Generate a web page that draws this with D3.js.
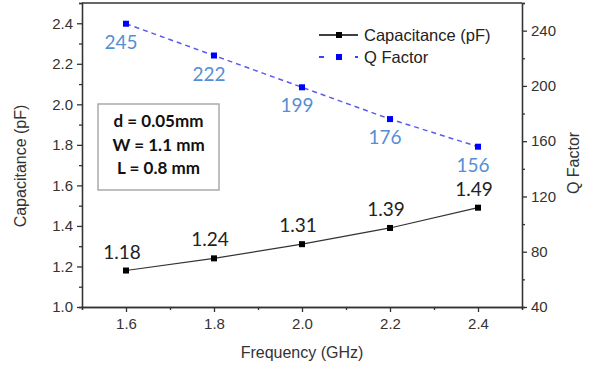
<!DOCTYPE html>
<html>
<head>
<meta charset="utf-8">
<script src="https://cdn.jsdelivr.net/npm/d3@7"></script>
<style>
  body { margin: 0; background: #fff; }
  svg { display: block; }
  .axis text { font-family: "Liberation Sans", Arial, sans-serif; font-size: 15px; fill: #333; }
  .axis path, .axis line { stroke: #333; stroke-width: 1.3; }
</style>
</head>
<body>
<svg id="chart" width="599" height="369"></svg>
<script>
// data
var freq = [1.6, 1.8, 2.0, 2.2, 2.4];
var capacitance = [1.18, 1.24, 1.31, 1.39, 1.49];
var qFactor = [245, 222, 199, 176, 156];

var xTicks = [1.6, 1.8, 2.0, 2.2, 2.4];
var xMinor = [1.5, 1.7, 1.9, 2.1, 2.3, 2.5];
var capTicks = [1.0, 1.2, 1.4, 1.6, 1.8, 2.0, 2.2, 2.4];
var capMinor = [1.1, 1.3, 1.5, 1.7, 1.9, 2.1, 2.3, 2.5];
var qTicks = [40, 80, 120, 160, 200, 240];
var qMinor = [60, 100, 140, 180, 220, 260];
var infoLines = ["d = 0.05mm", "W = 1.1 mm", "L = 0.8 mm"];

// plot area (window.top is reserved, so keep these in an object)
var plot = { left: 82, right: 522, top: 3, bottom: 307 };
var svg = d3.select("#chart");

var x = d3.scaleLinear().domain([1.5, 2.5]).range([plot.left, plot.right]);
var yCap = d3.scaleLinear().domain([1.0, 2.5]).range([plot.bottom, plot.top]);
var yQ = d3.scaleLinear().domain([40, 260]).range([plot.bottom, plot.top]);

// frame top line
svg.append("line")
  .attr("x1", plot.left).attr("x2", plot.right)
  .attr("y1", plot.top).attr("y2", plot.top)
  .attr("stroke", "#333").attr("stroke-width", 1.3);

// minor ticks first
svg.append("g").attr("class", "axis")
  .attr("transform", "translate(0," + plot.bottom + ")")
  .call(d3.axisBottom(x).tickValues(xMinor).tickSize(3).tickFormat(""));
svg.append("g").attr("class", "axis")
  .attr("transform", "translate(" + plot.left + ",0)")
  .call(d3.axisLeft(yCap).tickValues(capMinor).tickSize(3).tickFormat(""));
svg.append("g").attr("class", "axis")
  .attr("transform", "translate(" + plot.right + ",0)")
  .call(d3.axisRight(yQ).tickValues(qMinor).tickSize(3).tickFormat(""));

// major axes
svg.append("g").attr("class", "axis")
  .attr("transform", "translate(0," + plot.bottom + ")")
  .call(d3.axisBottom(x).tickValues(xTicks).tickSize(5).tickSizeOuter(0).tickPadding(6).tickFormat(d3.format(".1f")));
svg.append("g").attr("class", "axis")
  .attr("transform", "translate(" + plot.left + ",0)")
  .call(d3.axisLeft(yCap).tickValues(capTicks).tickSize(5).tickSizeOuter(0).tickPadding(4).tickFormat(d3.format(".1f")));
svg.append("g").attr("class", "axis")
  .attr("transform", "translate(" + plot.right + ",0)")
  .call(d3.axisRight(yQ).tickValues(qTicks).tickSize(5).tickSizeOuter(0).tickPadding(4));

// axis titles
var titleFont = "'Liberation Sans', Arial, sans-serif";
svg.append("text")
  .attr("x", (plot.left + plot.right) / 2).attr("y", 358)
  .attr("text-anchor", "middle")
  .style("font-family", titleFont).style("font-size", "16px").style("fill", "#333")
  .text("Frequency (GHz)");
svg.append("text")
  .attr("transform", "translate(26,166) rotate(-90)")
  .attr("text-anchor", "middle")
  .style("font-family", titleFont).style("font-size", "16px").style("fill", "#333")
  .text("Capacitance (pF)");
svg.append("text")
  .attr("transform", "translate(579,163) rotate(-90)")
  .attr("text-anchor", "middle")
  .style("font-family", titleFont).style("font-size", "16px").style("fill", "#333")
  .text("Q Factor");

// series
var capData = freq.map(function(f, i) { return { f: f, v: capacitance[i] }; });
var qData = freq.map(function(f, i) { return { f: f, v: qFactor[i] }; });

svg.append("path")
  .datum(capData)
  .attr("fill", "none").attr("stroke", "#333").attr("stroke-width", 1.2)
  .attr("d", d3.line().x(function(d) { return x(d.f); }).y(function(d) { return yCap(d.v); }));

svg.append("path")
  .datum(qData)
  .attr("fill", "none").attr("stroke", "#5a5af0").attr("stroke-width", 1.5)
  .attr("stroke-dasharray", "5,4")
  .attr("d", d3.line().x(function(d) { return x(d.f); }).y(function(d) { return yQ(d.v); }));

var ms = 6;
svg.selectAll("rect.cap").data(capData).enter().append("rect")
  .attr("class", "cap")
  .attr("x", function(d) { return x(d.f) - ms / 2; })
  .attr("y", function(d) { return yCap(d.v) - ms / 2; })
  .attr("width", ms).attr("height", ms).attr("fill", "#000");

svg.selectAll("rect.q").data(qData).enter().append("rect")
  .attr("class", "q")
  .attr("x", function(d) { return x(d.f) - ms / 2; })
  .attr("y", function(d) { return yQ(d.v) - ms / 2; })
  .attr("width", ms).attr("height", ms).attr("fill", "#0000ff");

// data labels
var labelFont = "Lato, 'Open Sans', sans-serif";
svg.selectAll("text.capLabel").data(capData).enter().append("text")
  .attr("class", "capLabel")
  .attr("x", function(d) { return x(d.f) - 4; })
  .attr("y", function(d) { return yCap(d.v) - 12; })
  .attr("text-anchor", "middle")
  .style("font-family", labelFont).style("font-size", "19px").style("fill", "#222")
  .text(function(d) { return d3.format(".2f")(d.v); });

svg.selectAll("text.qLabel").data(qData).enter().append("text")
  .attr("class", "qLabel")
  .attr("x", function(d) { return x(d.f) - 5; })
  .attr("y", function(d) { return yQ(d.v) + 25; })
  .attr("text-anchor", "middle")
  .style("font-family", labelFont).style("font-size", "19px").style("fill", "#558ed5")
  .text(function(d) { return d.v; });

// legend
var legend = svg.append("g").attr("transform", "translate(319,35)");
legend.append("line").attr("x1", 0).attr("x2", 39).attr("y1", 0).attr("y2", 0)
  .attr("stroke", "#000").attr("stroke-width", 1.3);
legend.append("rect").attr("x", 20 - ms / 2).attr("y", -ms / 2).attr("width", ms).attr("height", ms).attr("fill", "#000");
legend.append("text").attr("x", 45).attr("y", 6)
  .style("font-family", titleFont).style("font-size", "16.5px").style("fill", "#222")
  .text("Capacitance (pF)");
legend.append("line").attr("x1", 0).attr("x2", 39).attr("y1", 22).attr("y2", 22)
  .attr("stroke", "#0000ff").attr("stroke-width", 1.5).attr("stroke-dasharray", "5,13");
legend.append("rect").attr("x", 20 - ms / 2).attr("y", 22 - ms / 2).attr("width", ms).attr("height", ms).attr("fill", "#0000ff");
legend.append("text").attr("x", 45).attr("y", 28)
  .style("font-family", titleFont).style("font-size", "16.5px").style("fill", "#222")
  .text("Q Factor");

// info box
svg.append("rect")
  .attr("x", 98).attr("y", 104).attr("width", 121).attr("height", 86)
  .attr("fill", "#fff").attr("stroke", "#aaa").attr("stroke-width", 1.5);
svg.selectAll("text.info").data(infoLines).enter().append("text")
  .attr("class", "info")
  .attr("x", 158.5)
  .attr("y", function(d, i) { return 127 + i * 23.5; })
  .attr("text-anchor", "middle")
  .style("font-family", labelFont).style("font-weight", "bold").style("font-size", "17px").style("fill", "#111")
  .text(function(d) { return d; });
</script>
</body>
</html>
